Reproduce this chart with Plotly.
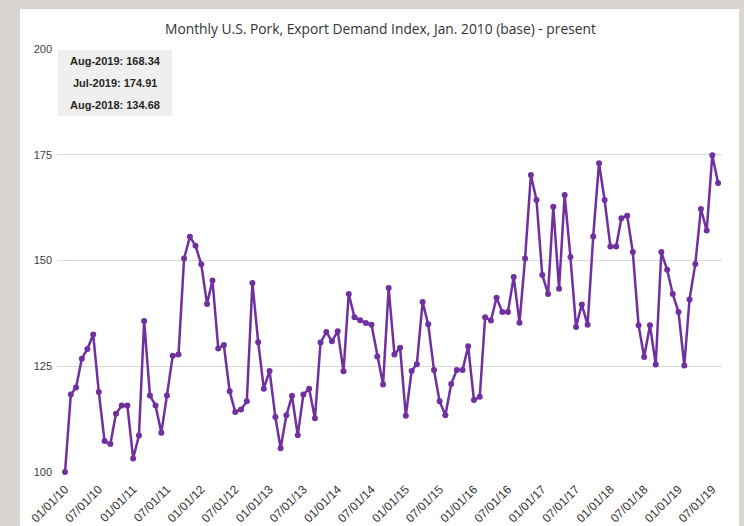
import plotly.graph_objects as go
import pandas as pd

start_month = "2010-01-01"
values = [
    100.0, 118.3, 120.0, 126.8, 129.1, 132.5, 118.9, 107.3, 106.6, 113.8, 115.7, 115.7,
    103.2, 108.6, 135.7, 118.1, 115.7, 109.3, 118.1, 127.5, 127.8, 150.5, 155.6, 153.5,
    149.1, 139.7, 145.3, 129.2, 130.0, 119.1, 114.2, 114.8, 116.7, 144.7, 130.7, 119.7,
    123.9, 113.0, 105.6, 113.4, 118.0, 108.7, 118.3, 119.7, 112.7, 130.6, 133.1, 130.9,
    133.3, 123.8, 142.1, 136.6, 135.9, 135.2, 134.8, 127.3, 120.7, 143.5, 127.8, 129.4,
    113.3, 123.9, 125.5, 140.2, 134.9, 124.1, 116.7, 113.4, 120.8, 124.1, 124.1, 129.7,
    117.0, 117.8, 136.6, 135.8, 141.2, 137.8, 137.8, 146.1, 135.3, 150.5, 170.2, 164.3,
    146.6, 142.1, 162.7, 143.3, 165.5, 150.8, 134.3, 139.6, 134.8, 155.7, 173.0, 164.3,
    153.3, 153.3, 160.0, 160.6, 152.0, 134.7, 127.2, 134.68, 125.4, 152.0, 147.8, 142.1,
    137.8, 125.2, 140.8, 149.2, 162.2, 157.1, 174.91, 168.34,
]
dates = pd.date_range(start_month, periods=len(values), freq="MS")

box_labels = ["Aug-2019", "Jul-2019", "Aug-2018"]
box_values = [168.34, 174.91, 134.68]

title = "Monthly U.S. Pork, Export Demand Index, Jan. 2010 (base) - present"
y_ticks = [100, 125, 150, 175, 200]

W, H = 744, 526
L, R, T, B = 57, 22, 49, 54
pw, ph = W - L - R, H - T - B

def px_x(p):
    return (p - L) / pw

def px_y(p):
    return (H - B - p) / ph

fig = go.Figure()
fig.add_trace(go.Scatter(
    x=dates, y=values, mode="lines+markers",
    line=dict(color="#7030a0", width=2.5),
    marker=dict(color="#7030a0", size=6),
    cliponaxis=False, showlegend=False,
))

shapes = [
    dict(type="rect", xref="paper", yref="paper",
         x0=px_x(20), x1=px_x(739), y0=px_y(526), y1=px_y(9),
         fillcolor="white", line=dict(width=0), layer="below"),
    dict(type="rect", xref="paper", yref="paper",
         x0=px_x(58), x1=px_x(172), y0=px_y(116), y1=px_y(50),
         fillcolor="#efefef", line=dict(width=0), layer="above"),
]

annotations = [
    dict(text=title, xref="paper", yref="paper", x=px_x(380), y=px_y(28),
         showarrow=False, xanchor="center", yanchor="middle",
         font=dict(size=13.8, color="#333333", family="Open Sans, Liberation Sans, sans-serif")),
]
for i, (lab, v) in enumerate(zip(box_labels, box_values)):
    annotations.append(dict(
        text=f"<b>{lab}: {v:.2f}</b>", xref="paper", yref="paper",
        x=px_x(115), y=px_y(61 + i * 22), showarrow=False,
        xanchor="center", yanchor="middle",
        font=dict(size=11, color="#262626", family="Liberation Sans Narrow, Liberation Sans, sans-serif"),
    ))

fig.update_layout(
    width=W, height=H,
    margin=dict(l=L, r=R, t=T, b=B, pad=0, autoexpand=False),
    paper_bgcolor="#d9d6d1", plot_bgcolor="white",
    shapes=shapes, annotations=annotations,
    xaxis=dict(
        type="date", range=["2009-11-19", "2019-08-22"],
        tick0="2010-01-01", dtick="M6", tickformat="%m/%d/%y",
        tickangle=-45, showgrid=False, zeroline=False, showline=False,
        ticks="", ticklabelstandoff=7, automargin=False,
        tickfont=dict(size=12, color="#333333",
                      family="Liberation Sans, Arial, sans-serif"),
    ),
    yaxis=dict(
        range=[100, 200], tickvals=y_ticks, showgrid=True,
        gridcolor="#d9d9d9", gridwidth=1, zeroline=False, showline=False,
        ticks="", automargin=False,
        tickfont=dict(size=11, color="#404040",
                      family="Liberation Sans, Arial, sans-serif"),
        ticklabelstandoff=4,
    ),
)

fig.write_html("out.html")
